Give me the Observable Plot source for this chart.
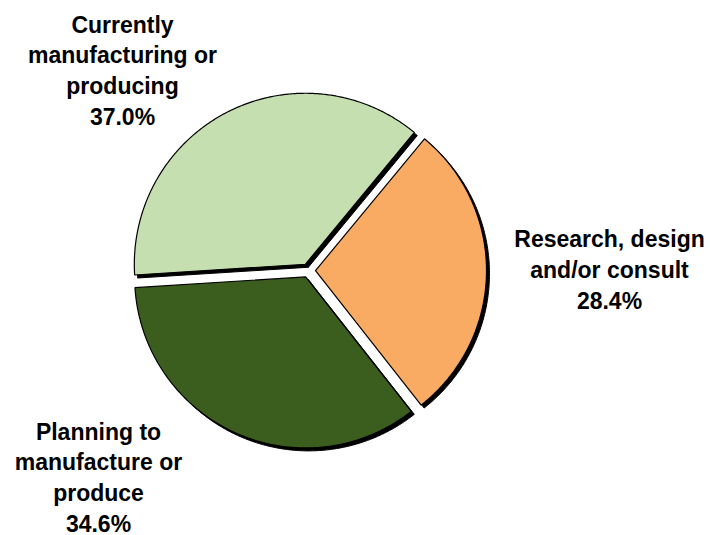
<!DOCTYPE html>
<html>
<head>
<meta charset="utf-8">
<script src="https://cdn.jsdelivr.net/npm/d3@7"></script>
<script src="https://cdn.jsdelivr.net/npm/@observablehq/plot@0.6"></script>
<style>
  html, body { margin: 0; padding: 0; background: #fff; overflow: hidden; }
  #chart svg { display: block; }
</style>
</head>
<body>
<div id="chart"></div>
<script>
// ---- data ----
const categories = [
  "Research, design and/or consult",
  "Planning to manufacture or produce",
  "Currently manufacturing or producing"
];
const values = [28.4, 34.6, 37.0];
const labelLines = [
  ["Research, design", "and/or consult"],
  ["Planning to", "manufacture or", "produce"],
  ["Currently", "manufacturing or", "producing"]
];
const colors = ["#f9ab64", "#3b5d1e", "#c5dfb0"];

// ---- layout (pixel units) ----
const W = 710, H = 535;
const center = [308, 270];
const radius = 171;
const explode = 7;
const startAngle = 39.6; // degrees, clockwise from 12 o'clock
const labelPos = [[609, 308], [98, 531], [122, 124]]; // x center, last baseline

// build slice polygons from the values
const total = d3.sum(values);
const pts = [];
let a = startAngle;
values.forEach((v, i) => {
  const span = v / total * 360;
  const a0 = a, a1 = a + span;
  const mid = (a0 + a1) / 2 * Math.PI / 180;
  const cx = center[0] + explode * Math.sin(mid);
  const cy = center[1] - explode * Math.cos(mid);
  const key = categories[i];
  pts.push({key, x: cx, y: cy});
  const n = Math.ceil(span * 2);
  for (let k = 0; k <= n; k++) {
    const t = (a0 + (a1 - a0) * k / n) * Math.PI / 180;
    pts.push({key, x: cx + radius * Math.sin(t), y: cy - radius * Math.cos(t)});
  }
  pts.push({key, x: cx, y: cy});
  a = a1;
});

const labels = categories.map((c, i) => ({
  text: [...labelLines[i], values[i].toFixed(1) + "%"].join("\n"),
  x: labelPos[i][0],
  y: labelPos[i][1]
}));

const chart = Plot.plot({
  width: W,
  height: H,
  margin: 0,
  x: {domain: [0, W], axis: null},
  y: {domain: [0, H], range: [0, H], axis: null},
  color: {domain: categories, range: colors},
  marks: [
    Plot.line(pts, {x: "x", y: "y", z: "key", fill: "black", stroke: "black", strokeWidth: 1, dx: 3, dy: 3}),
    Plot.line(pts, {x: "x", y: "y", z: "key", fill: "key", stroke: "black", strokeWidth: 1.2, strokeLinejoin: "miter"}),
    Plot.text(labels, {
      x: "x", y: "y", text: "text",
      lineAnchor: "bottom", lineHeight: 1.33,
      fontSize: 23, fontWeight: "bold",
      fontFamily: "'Liberation Sans', Arial, sans-serif",
      fill: "black", textAnchor: "middle"
    })
  ]
});
document.getElementById("chart").appendChild(chart);
</script>
</body>
</html>
